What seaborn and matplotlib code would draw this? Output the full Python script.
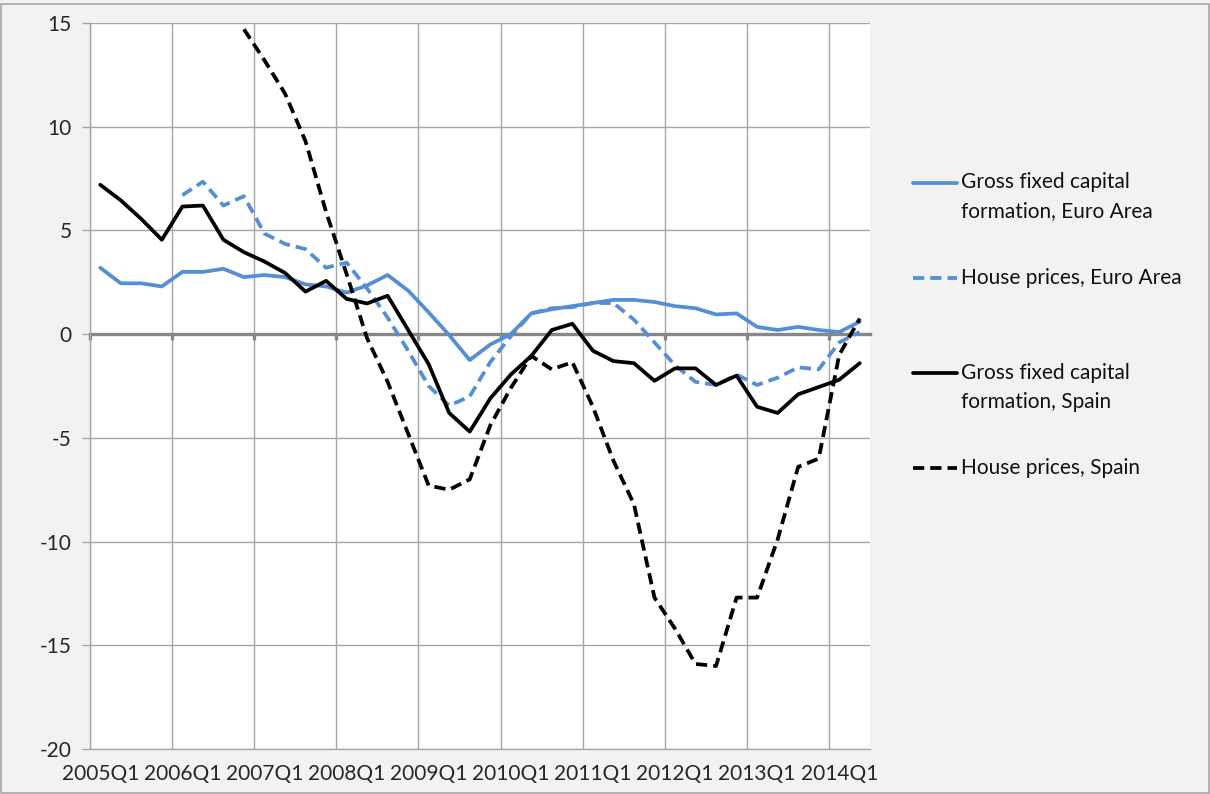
import matplotlib
matplotlib.use("Agg")
import matplotlib.pyplot as plt
from matplotlib.lines import Line2D
from matplotlib.patches import Rectangle
import numpy as np
import pandas as pd
import seaborn as sns

# quarterly categories 2005Q1 .. 2014Q2
quarters = [f"{y}Q{q}" for y in range(2005, 2015) for q in range(1, 5)][:38]

nan = np.nan
gfcf_ea = [3.2, 2.45, 2.45, 2.3, 3.0, 3.0, 3.15, 2.75, 2.85, 2.75,
           2.4, 2.3, 2.0, 2.35, 2.85, 2.1, 1.05, -0.05, -1.25, -0.5,
           0.0, 1.0, 1.2, 1.35, 1.5, 1.65, 1.65, 1.55, 1.35, 1.25,
           0.95, 1.0, 0.35, 0.2, 0.35, 0.2, 0.1, 0.6]
hp_ea = [nan, nan, nan, nan, 6.7, 7.35, 6.2, 6.65, 4.85, 4.35,
         4.1, 3.2, 3.45, 2.2, 0.8, -0.8, -2.5, -3.45, -3.0, -1.35,
         -0.1, 1.0, 1.25, 1.3, 1.5, 1.5, 0.7, -0.4, -1.5, -2.3,
         -2.45, -1.95, -2.45, -2.1, -1.6, -1.7, -0.4, 0.1]
gfcf_es = [7.2, 6.45, 5.55, 4.55, 6.15, 6.2, 4.55, 3.95, 3.5, 2.95,
           2.05, 2.57, 1.7, 1.48, 1.85, 0.2, -1.45, -3.8, -4.7, -3.1,
           -1.95, -1.05, 0.2, 0.5, -0.8, -1.3, -1.4, -2.25, -1.65, -1.65,
           -2.45, -2.0, -3.5, -3.8, -2.9, -2.55, -2.2, -1.4]
hp_es = [nan, nan, nan, nan, nan, nan, nan, 14.7, 13.2, 11.6,
         9.3, 5.9, 2.9, -0.2, -2.3, -4.8, -7.3, -7.5, -7.0, -4.4,
         -2.6, -1.05, -1.7, -1.35, -3.5, -6.1, -8.2, -12.7, -14.2, -15.9,
         -16.0, -12.7, -12.7, -9.9, -6.4, -6.0, -1.0, 0.75]

series_names = ["Gross fixed capital formation, Euro Area",
                "House prices, Euro Area",
                "Gross fixed capital formation, Spain",
                "House prices, Spain"]
legend_labels = ["Gross fixed capital\nformation, Euro Area",
                 "House prices, Euro Area",
                 "Gross fixed capital\nformation, Spain",
                 "House prices, Spain"]
colors = ["#558ED5", "#558ED5", "#000000", "#000000"]
dash_styles = ["", (3, 1.6), "", (3, 1.6)]

frames = []
for name, vals in zip(series_names, [gfcf_ea, hp_ea, gfcf_es, hp_es]):
    frames.append(pd.DataFrame({"pos": np.arange(len(quarters)),
                                "quarter": quarters,
                                "value": vals,
                                "series": name}))
df = pd.concat(frames).dropna()

sns.set_style("white")
plt.rcParams["font.family"] = ["Lato", "DejaVu Sans"]
plt.rcParams["axes.unicode_minus"] = False

fig = plt.figure(figsize=(12.1, 7.94), dpi=100, facecolor="#F2F2F2")
ax = fig.add_axes([90 / 1210, 45 / 794, 780 / 1210, 726 / 794])
ax.set_facecolor("white")

sns.lineplot(data=df, x="pos", y="value", hue="series", style="series",
             hue_order=series_names, style_order=series_names,
             palette=dict(zip(series_names, colors)),
             dashes=dict(zip(series_names, dash_styles)),
             linewidth=2.7, errorbar=None, legend=False, ax=ax)

grid_c = "#A6A6A6"
ax.set_xlim(-0.5, len(quarters) - 0.5)
ax.set_ylim(-20, 15)
ax.set_yticks(range(-20, 16, 5))
ax.set_xticks(range(0, len(quarters), 4))
ax.set_xticklabels([quarters[i] for i in range(0, len(quarters), 4)])
ax.set_xticks(np.arange(-0.5, len(quarters), 4), minor=True)
ax.set_xlabel("")
ax.set_ylabel("")

ax.grid(True, which="minor", axis="x", color=grid_c, lw=1.0)
ax.grid(True, which="major", axis="y", color=grid_c, lw=1.0)
ax.grid(False, which="major", axis="x")
ax.set_axisbelow(True)

# horizontal axis drawn at zero
ax.spines["top"].set_position(("data", 0))
ax.spines["top"].set_color("#878787")
ax.spines["top"].set_linewidth(2.4)
ax.spines["top"].set_zorder(1.5)
ax.spines["right"].set_visible(False)
ax.spines["left"].set_color(grid_c)
ax.spines["left"].set_linewidth(1.0)
ax.spines["bottom"].set_color(grid_c)
ax.spines["bottom"].set_linewidth(1.0)

ax.tick_params(axis="x", which="major", bottom=True, top=False, length=0,
               pad=11, labelsize=15)
ax.tick_params(axis="x", which="minor", bottom=False, top=True,
               direction="in", length=4, width=2.4, color="#878787")
ax.tick_params(axis="y", which="major", left=True, direction="out",
               length=6, width=1.0, color=grid_c, pad=7, labelsize=15)

# legend, outside the plot on the right
def fx(px):
    return px / 1210

def fy(py):
    return 1 - py / 794

for k, (lab, c, d) in enumerate(zip(legend_labels, colors, dash_styles)):
    y = 182.5 + 95.3 * k
    ls = "-" if d == "" else (0, d)
    fig.add_artist(Line2D([fx(913), fx(957)], [fy(y), fy(y)],
                          transform=fig.transFigure, color=c, lw=2.7,
                          linestyle=ls))
    for j, line in enumerate(lab.split("\n")):
        fig.text(fx(961), fy(y + 28.7 * j), line, fontsize=15,
                 va="center", ha="left", color="#111111")

fig.add_artist(Rectangle((0.001, 0.001), 0.998, 0.994,
                         transform=fig.transFigure, fill=False,
                         edgecolor="#A6A6A6", lw=1.2))

fig.savefig("out.png", dpi=100, facecolor=fig.get_facecolor())
